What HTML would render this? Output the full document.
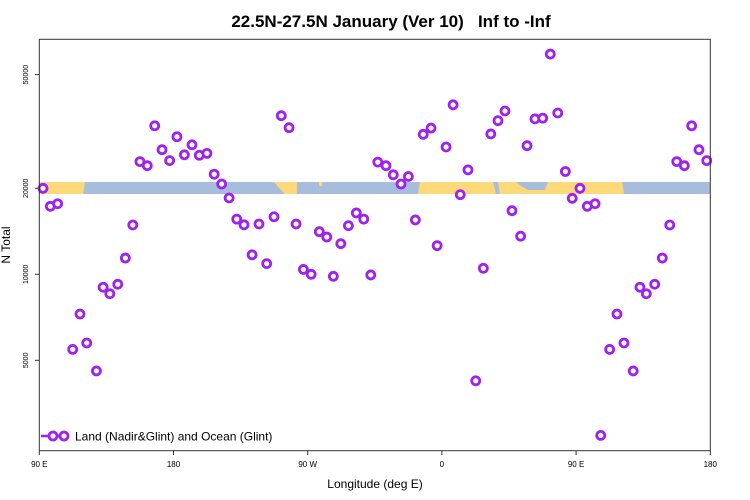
<!DOCTYPE html>
<html><head><meta charset="utf-8"><style>
body{margin:0;background:#fff}
svg{display:block;font-family:"Liberation Sans",sans-serif}
</style></head><body>
<svg id="c" width="750" height="500">
<text x="391" y="27" font-size="17" font-weight="bold" text-anchor="middle" style="white-space:pre">22.5N-27.5N January (Ver 10)   Inf to -Inf</text>
<g id="band">
<rect x="39.3" y="182" width="671" height="12" fill="#a7bddb"/>
<polygon points="39.3,182 85,182 83,194 39.3,194" fill="#fed97a"/>
<polygon points="274,182 297,182 297,194 285,194 279,188" fill="#fed97a"/>
<rect x="319" y="182" width="3" height="4" fill="#fed97a"/>
<polygon points="420,182 493,182 496,194 418,194" fill="#fed97a"/>
<polygon points="498,182 516,182 521,186 528,190 545,190 548,182 622,182 624,194 500,194" fill="#fed97a"/>
</g>
<g id="axes"></g>
<g id="pts"></g>
<rect x="39.3" y="39.3" width="671" height="411.4" fill="none" stroke="#333" stroke-width="1"/>
<text x="375" y="488" font-size="12" text-anchor="middle">Longitude (deg E)</text>
<text x="10" y="245" font-size="12" text-anchor="middle" transform="rotate(-90 10 245)">N Total</text>
<g>
<line x1="41" y1="436" x2="68" y2="436" stroke="#a020f0" stroke-width="2.5"/>
<circle cx="53" cy="436" r="4" fill="#fff" stroke="#a020f0" stroke-width="2.8"/>
<circle cx="64" cy="436" r="4" fill="#fff" stroke="#a020f0" stroke-width="2.8"/>
<text x="75" y="440.5" font-size="12">Land (Nadir&amp;Glint) and Ocean (Glint)</text>
</g>
</svg>
<script>
const lonOffsets=[2.5,7.4,12.3,22.4,27.3,31.8,38.3,42.8,47.3,52.6,57.7,62.7,67.5,72.4,77.4,82.3,87.4,92.3,97.3,102.4,107.3,112.4,117.3,122.3,127.3,132.4,137.3,142.7,147.3,152.5,157.4,162.3,167.5,172.2,177.1,182.3,187.8,192.8,197.2,202.2,207.3,212.6,217.6,222.3,227.0,232.5,237.4,242.6,247.5,252.2,257.5,262.7,266.8,272.8,277.5,282.3,287.5,292.7,297.8,302.8,307.6,312.3,317.0,322.8,327.1,332.4,337.6,342.7,347.7,352.8,357.4,362.6,367.5,372.7,376.5,382.5,387.4,392.1,398.3,402.8,407.1,412.7,417.8,422.8,427.5,432.6,437.5,442.4,447.6];
const totals=[20000,17300,17660,5460,7260,5750,4590,9010,8550,9230,11400,14880,24800,24000,33100,27300,25000,30300,26200,28400,26100,26500,22400,20700,18500,15600,14900,11700,15000,10900,15900,35900,32600,15000,10400,10000,14100,13500,9840,12800,14800,16400,15600,9950,24700,24000,22300,20700,22000,15500,30900,32500,12600,27900,39200,19000,23200,4240,10500,31000,34500,37300,16700,13600,28200,35000,35200,59000,36700,22900,18450,20000,17300,17660,2730,5460,7260,5750,4590,9010,8550,9230,11400,14880,24800,24000,33100,27300,25000];
const xTickOffsets=[0,90,180,270,360,450];
const xTickLabels=["90 E","180","90 W","0","90 E","180"];
const yTicks=[5000,10000,20000,50000];
const xs=d=>39.3+d*671/450;
const ys=v=>274.3-(Math.log10(v)-4)*285.7;
const NS="http://www.w3.org/2000/svg";
const ax=document.getElementById('axes'),pg=document.getElementById('pts');
function mk(tag,at,par){const e=document.createElementNS(NS,tag);for(const k in at)e.setAttribute(k,at[k]);par.appendChild(e);return e;}
xTickOffsets.forEach((d,i)=>{
 const t=mk('line',{x1:xs(d),x2:xs(d),y1:450.7,y2:455,stroke:'#333'},ax);
 
 
 const l=mk('text',{x:xs(d),y:467,'font-size':8,'text-anchor':'middle'},ax);
 l.textContent=xTickLabels[i];
 
 
});
yTicks.forEach(v=>{
 const y=ys(v);
 const t=mk('line',{x1:35,x2:39.3,y1:y,y2:y,stroke:'#333'},ax);
 
 
 const l=mk('text',{x:28,y:y,'font-size':7,'text-anchor':'middle',transform:`rotate(-90 28 ${y})`},ax);
 l.textContent=v;
 
 
});
lonOffsets.forEach((d,i)=>{
 const c=mk('circle',{cx:xs(d),cy:ys(totals[i]),r:4,fill:'#fff',stroke:'#a020f0','stroke-width':2.8},pg);
 
 
});
</script>
</body></html>
